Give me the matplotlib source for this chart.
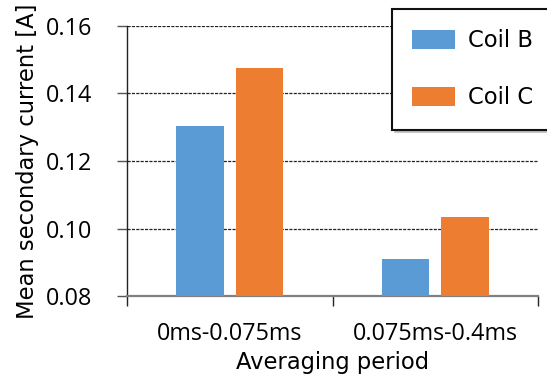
import matplotlib
matplotlib.use("Agg")
import matplotlib.pyplot as plt
import numpy as np

# Mean secondary current per averaging window
periods = ["0ms-0.075ms", "0.075ms-0.4ms"]
coil_b = [0.1304, 0.0909]
coil_c = [0.1475, 0.1033]
series_names = ["Coil B", "Coil C"]
yticks = [0.08, 0.10, 0.12, 0.14, 0.16]

blue = "#5B9BD5"
orange = "#ED7D31"
fs_num = 16.8
fs_txt = 16.3
num_font = ["Open Sans", "DejaVu Sans"]
txt_font = ["DejaVu Sans"]

plt.rcParams["font.family"] = num_font

fig = plt.figure(figsize=(5.47, 3.79), dpi=100)
ax = fig.add_axes([127 / 547, 1 - 296 / 379, (538 - 127) / 547, (296 - 26) / 379])

centers = np.arange(len(periods)) + 0.5
width = 0.23
offset = 0.145
bars_b = ax.bar(centers - offset, coil_b, width, color=blue, label=series_names[0], zorder=3)
bars_c = ax.bar(centers + offset, coil_c, width, color=orange, label=series_names[1], zorder=3)

ax.set_xlim(0, len(periods))
ax.set_ylim(0.08, 0.16)
ax.set_yticks(yticks)
ax.set_yticklabels([f"{v:.2f}" for v in yticks], fontsize=fs_num)

# category boundaries carry the ticks; labels sit at the centres
ax.set_xticks(np.arange(len(periods) + 1))
ax.set_xticklabels([])
ax.set_xticks(centers, minor=True)
ax.set_xticklabels(periods, minor=True, fontsize=fs_num)
ax.tick_params(axis="x", which="minor", length=0, pad=19)
ax.tick_params(axis="x", which="major", length=7, width=1.0, color="#222222", direction="out")
ax.tick_params(axis="y", length=7, width=1.0, color="#555555", direction="out", pad=18)

ax.yaxis.grid(True, linestyle=(0, (2.5, 1.0)), linewidth=0.9, color="#222222", zorder=0)
ax.set_axisbelow(True)

for side in ("top", "right"):
    ax.spines[side].set_visible(False)
ax.spines["left"].set_color("#222222")
ax.spines["left"].set_linewidth(1.0)
ax.spines["bottom"].set_color("#808080")
ax.spines["bottom"].set_linewidth(1.6)

ax.set_xlabel("Averaging period", fontsize=fs_txt, family=txt_font, labelpad=3)
ax.set_ylabel("Mean secondary current [A]", fontsize=fs_txt, family=txt_font, labelpad=5)

leg = fig.legend(handles=[bars_b, bars_c], labels=series_names, loc="upper left",
                 bbox_to_anchor=(392 / 547, 1 - 9 / 379), bbox_transform=fig.transFigure,
                 prop={"family": txt_font, "size": fs_txt}, frameon=True, fancybox=False,
                 shadow={"color": "0.7", "alpha": 0.7, "ox": 2, "oy": -2},
                 handlelength=1.9, handleheight=0.95, handletextpad=0.55,
                 labelspacing=1.5, borderpad=0.9, borderaxespad=0)
leg.get_frame().set_edgecolor("#111111")
leg.get_frame().set_linewidth(1.5)
leg.get_frame().set_alpha(1.0)

fig.savefig("out.png", dpi=100)
